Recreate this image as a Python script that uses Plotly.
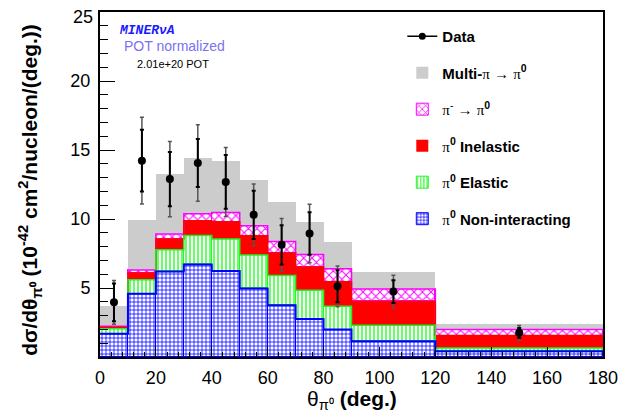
import plotly.graph_objects as go

# ---------------- data ----------------
bin_edges = [0, 10, 20, 30, 40, 50, 60, 70, 80, 90, 120, 180]

non_interacting = [1.68, 4.59, 6.20, 6.71, 6.23, 4.97, 3.75, 2.76, 1.99, 1.14, 0.42]
elastic         = [0.36, 1.01, 1.57, 2.10, 2.32, 2.42, 2.16, 2.07, 1.68, 1.16, 0.24]
inelastic       = [0.11, 0.49, 0.78, 1.06, 1.25, 1.40, 1.62, 1.69, 1.79, 1.73, 0.89]
piminus_to_pi0  = [0.08, 0.22, 0.36, 0.51, 0.67, 0.72, 0.84, 0.91, 0.94, 0.90, 0.44]
multi_pi        = [1.49, 3.63, 4.38, 4.07, 3.76, 3.30, 2.87, 2.35, 1.91, 1.25, 0.43]

data_vals  = [3.96, 14.23, 12.89, 14.06, 12.69, 10.30, 8.13, 8.95, 5.12, 4.74, 1.75]
err_total  = [1.58, 3.15, 2.73, 2.77, 2.50, 2.23, 1.91, 2.12, 1.47, 1.18, 0.53]
err_stat   = [1.37, 2.23, 1.97, 1.74, 1.95, 1.75, 1.42, 1.54, 1.16, 0.82, 0.36]

x_ticks = [0, 20, 40, 60, 80, 100, 120, 140, 160, 180]
y_ticks = [5, 10, 15, 20, 25]
y_max = 25

# ---------------- helpers ----------------
centers = [(bin_edges[i] + bin_edges[i + 1]) / 2 for i in range(len(bin_edges) - 1)]
widths = [bin_edges[i + 1] - bin_edges[i] for i in range(len(bin_edges) - 1)]

def cumsum(*arrs):
    return [sum(v) for v in zip(*arrs)]

cum_blue = non_interacting
cum_green = cumsum(non_interacting, elastic)
cum_red = cumsum(non_interacting, elastic, inelastic)
cum_mag = cumsum(non_interacting, elastic, inelastic, piminus_to_pi0)

PI = "<span style='font-family:Liberation Serif'>π</span>"
SANS = "Liberation Sans, Arial, sans-serif"

fig = go.Figure()

components = [
    (non_interacting, f"{PI}<sup><b>0</b></sup> <b>Non-interacting</b>",
     dict(shape="+", fgcolor="#0000ff", bgcolor="white", size=4, solidity=0.35)),
    (elastic, f"{PI}<sup><b>0</b></sup> <b>Elastic</b>",
     dict(shape="|", fgcolor="#55ff55", bgcolor="white", size=4, solidity=0.45)),
    (inelastic, f"{PI}<sup><b>0</b></sup> <b>Inelastic</b>", None),
    (piminus_to_pi0, f"{PI}<sup>-</sup> → {PI}<sup><b>0</b></sup>",
     dict(shape="x", fgcolor="#ff00ff", bgcolor="white", size=6, solidity=0.3)),
    (multi_pi, f"<b>Multi-</b>{PI} → {PI}<sup><b>0</b></sup>", None),
]
solid_colors = {2: "#ff0000", 4: "#cccccc"}
legend_line = {0: "#0000ff", 1: "#33ee33", 2: "#ff0000", 3: "#ff00ff", 4: "#cccccc"}
ranks = {0: 60, 1: 50, 2: 40, 3: 30, 4: 20}

for i, (vals, name, pat) in enumerate(components):
    if pat is not None:
        marker = dict(color=pat["fgcolor"], pattern=dict(fillmode="replace", **pat),
                      line=dict(color=legend_line[i], width=1))
    else:
        marker = dict(color=solid_colors[i], line=dict(color=legend_line[i], width=0))
    fig.add_trace(go.Bar(x=centers, y=vals, width=widths, name=name, marker=marker,
                         legendgroup=f"g{i}", legendrank=ranks[i], showlegend=True))

# histogram outlines (step lines), drawn top component first so lower ones are on top
step_x = bin_edges
for cum, col, w in [(cum_mag, "#ff00ff", 1.5), (cum_red, "#ff0000", 1.5),
                    (cum_green, "#22ee22", 1.5), (cum_blue, "#0000ff", 2)]:
    fig.add_trace(go.Scatter(x=step_x, y=list(cum) + [cum[-1]], mode="lines",
                             line=dict(color=col, width=w, shape="hv"),
                             showlegend=False, hoverinfo="skip"))

# data: total error
fig.add_trace(go.Scatter(x=centers, y=data_vals, mode="markers",
                         marker=dict(color="rgba(0,0,0,0)", size=1),
                         error_y=dict(type="data", array=err_total, color="#555555",
                                      thickness=1.5, width=2),
                         showlegend=False, hoverinfo="skip"))
# data: statistical error + points
fig.add_trace(go.Scatter(x=centers, y=data_vals, mode="markers",
                         marker=dict(color="black", size=8),
                         error_y=dict(type="data", array=err_stat, color="black",
                                      thickness=2, width=2),
                         showlegend=False))
# legend entry for data
fig.add_trace(go.Scatter(x=[None], y=[None], mode="lines+markers", name="<b>Data</b>",
                         line=dict(color="black", width=1.5),
                         marker=dict(color="black", size=7), legendgroup="g9", legendrank=10))

# top y tick label would be clipped at the page edge: draw it as an annotation slightly lower
y_ticktext = [str(v) if v != y_max else "" for v in y_ticks]

# page has an 8px body margin, so the figure is 8px smaller than the window
fig.update_layout(
    width=625, height=408,
    margin=dict(l=92, r=30, t=4, b=59, autoexpand=False),
    paper_bgcolor="white", plot_bgcolor="white",
    barmode="stack", bargap=0,
    font=dict(family=SANS, color="black"),
    showlegend=True,
    legend=dict(x=0.601, y=0.977, xanchor="left", yanchor="top",
                traceorder="grouped", tracegroupgap=14,
                font=dict(family=SANS, size=15, color="black"),
                bgcolor="rgba(0,0,0,0)", itemwidth=30),
    annotations=[
        dict(text=str(y_max), x=0, y=y_max, xref="paper", yref="y",
             xanchor="right", yanchor="middle", showarrow=False, xshift=-6, yshift=-5,
             height=14, valign="middle", borderpad=0,
             font=dict(family=SANS, size=18, color="black")),
        dict(text="<b><i>MINERνA</i></b>", x=0.034, y=0.945, xref="paper", yref="paper",
             xanchor="left", yanchor="middle", showarrow=False,
             font=dict(family="Liberation Mono, Courier New, monospace", size=13, color="#1a1aff")),
        dict(text="POT normalized", x=0.043, y=0.9, xref="paper", yref="paper",
             xanchor="left", yanchor="middle", showarrow=False,
             font=dict(family=SANS, size=14, color="#7a72f0")),
        dict(text="2.01e+20 POT", x=0.069, y=0.85, xref="paper", yref="paper",
             xanchor="left", yanchor="middle", showarrow=False,
             font=dict(family=SANS, size=11, color="black")),
        # axis titles
        dict(text="θ<sub>π⁰</sub> <b>(deg.)</b>", x=0.5, y=-0.124, xref="paper", yref="paper",
             xanchor="center", yanchor="middle", showarrow=False,
             font=dict(family=SANS, size=21, color="black")),
        dict(text="<b>dσ/dθ<sub>π⁰</sub> (10<sup>-42</sup> cm<sup>2</sup>/nucleon/(deg.))</b>",
             x=-0.139, y=0.485, xref="paper", yref="paper", textangle=-90,
             xanchor="center", yanchor="middle", showarrow=False,
             font=dict(family=SANS, size=21, color="black")),
    ],
)

fig.update_xaxes(
    range=[0, 180], tickmode="array", tickvals=x_ticks, automargin=False,
    ticks="inside", ticklen=10, tickwidth=1, tickcolor="black",
    minor=dict(tickmode="linear", tick0=0, dtick=4, ticks="inside", ticklen=5, tickcolor="black"),
    showline=True, linecolor="black", linewidth=2, mirror=True,
    showgrid=False, zeroline=False, ticklabeloverflow="allow", ticklabelstandoff=3,
    tickfont=dict(family=SANS, size=18, color="black"),
)
fig.update_yaxes(
    range=[0, y_max], tickmode="array", tickvals=y_ticks, ticktext=y_ticktext, automargin=False,
    ticks="inside", ticklen=15, tickwidth=1, tickcolor="black",
    minor=dict(tickmode="linear", tick0=0, dtick=1, ticks="inside", ticklen=8, tickcolor="black"),
    showline=True, linecolor="black", linewidth=2, mirror=True,
    showgrid=False, zeroline=False, ticklabeloverflow="allow", ticklabelstandoff=4,
    tickfont=dict(family=SANS, size=18, color="black"),
)

fig.write_html("out.html")
